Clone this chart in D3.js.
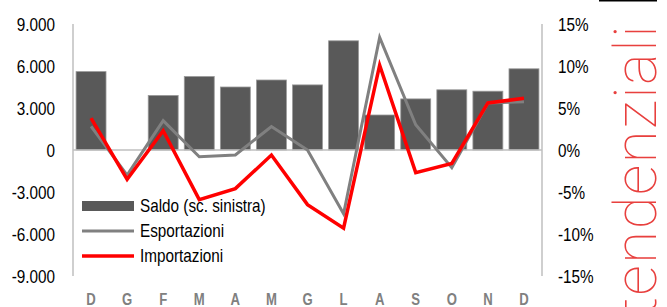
<!DOCTYPE html>
<html>
<head>
<meta charset="utf-8">
<script src="https://cdn.jsdelivr.net/npm/d3@7"></script>
<style>
  body { margin: 0; background: #fff; }
  svg { display: block; font-family: "Liberation Sans", Arial, sans-serif; }
</style>
</head>
<body>
<svg width="667" height="307"></svg>
<script>
// months, Dec of previous year to Dec
var months = ["D", "G", "F", "M", "A", "M", "G", "L", "A", "S", "O", "N", "D"];
var saldo = [5600, 0, 3900, 5250, 4500, 5000, 4650, 7800, 2500, 3650, 4300, 4200, 5800];
var esportazioni = [2.8, -3.0, 3.5, -0.8, -0.6, 2.8, 0.0, -7.6, 13.4, 3.0, -2.1, 5.6, 5.75];
var importazioni = [3.8, -3.5, 2.3, -5.9, -4.6, -0.6, -6.5, -9.3, 10.1, -2.7, -1.6, 5.6, 6.15];
var leftTicks = [-9000, -6000, -3000, 0, 3000, 6000, 9000];
var rightTicks = [-15, -10, -5, 0, 5, 10, 15];
var legendLabels = ["Saldo (sc. sinistra)", "Esportazioni", "Importazioni"];

var it = d3.formatLocale({ decimal: ",", thousands: ".", grouping: [3], currency: ["€", ""], minus: "-" });
var fmt = it.format(",.0f");

var svg = d3.select("svg");
var sx = 0.85; // narrow text look

var mLeft = 73, mRight = 542, mTop = 24, mBottom = 276;

var x = d3.scaleBand().domain(d3.range(months.length)).range([mLeft, mRight]).paddingInner(0.17).paddingOuter(0.085);
var yL = d3.scaleLinear().domain([-9000, 9000]).range([mBottom, mTop]);
var yR = d3.scaleLinear().domain([-15, 15]).range([mBottom, mTop]);

// bars
svg.append("g").selectAll("rect")
    .data(saldo)
    .enter()
    .append("rect")
    .attr("x", function(d, i) { return x(i); })
    .attr("width", x.bandwidth())
    .attr("y", function(d) { return yL(Math.max(0, d)); })
    .attr("height", function(d) { return Math.abs(yL(d) - yL(0)); })
    .attr("fill", "#595959")
    .attr("stroke", "#9a9a9a")
    .attr("stroke-width", 0.8);

// axis lines
svg.append("line").attr("x1", mLeft).attr("x2", mLeft).attr("y1", mTop).attr("y2", mBottom)
    .attr("stroke", "#bfbfbf").attr("stroke-width", 1.5);
svg.append("line").attr("x1", mRight).attr("x2", mRight).attr("y1", mTop).attr("y2", mBottom)
    .attr("stroke", "#bfbfbf").attr("stroke-width", 1.5);
svg.append("line").attr("x1", mLeft).attr("x2", mRight).attr("y1", yL(0)).attr("y2", yL(0))
    .attr("stroke", "#bfbfbf").attr("stroke-width", 1.5);

// lines
var line = function(arr) {
    return d3.line()
        .x(function(d, i) { return x(i) + x.bandwidth() / 2; })
        .y(function(d) { return yR(d); })(arr);
};
svg.append("path").attr("d", line(esportazioni)).attr("fill", "none")
    .attr("stroke", "#808080").attr("stroke-width", 3).attr("stroke-linejoin", "miter");
svg.append("path").attr("d", line(importazioni)).attr("fill", "none")
    .attr("stroke", "#ff0000").attr("stroke-width", 3.5).attr("stroke-linejoin", "miter");

// left axis
var gl = svg.append("g").attr("transform", "translate(" + mLeft + ",0)")
    .call(d3.axisLeft(yL).tickValues(leftTicks).tickFormat(fmt).tickSize(0));
gl.select(".domain").remove();
gl.selectAll("text")
    .attr("x", -18 / sx).attr("dy", "0.35em")
    .attr("transform", "scale(" + sx + ",1)")
    .attr("font-size", 18).attr("font-family", "Liberation Sans, Arial").attr("fill", "#000");

// right axis
var gr = svg.append("g").attr("transform", "translate(" + mRight + ",0)")
    .call(d3.axisRight(yR).tickValues(rightTicks).tickFormat(function(d) { return d + "%"; }).tickSize(0));
gr.select(".domain").remove();
gr.selectAll("text")
    .attr("x", 16 / sx).attr("dy", "0.35em")
    .attr("transform", "scale(" + sx + ",1)")
    .attr("font-size", 18).attr("font-family", "Liberation Sans, Arial").attr("fill", "#000");

// x labels
var gx = svg.append("g").attr("transform", "translate(0," + mBottom + ")")
    .call(d3.axisBottom(x).tickFormat(function(i) { return months[i]; }).tickSize(0));
gx.select(".domain").remove();
gx.selectAll(".tick text")
    .attr("y", 23).attr("dy", "0.35em")
    .attr("transform", "scale(0.82,1)")
    .attr("font-size", 16).attr("font-weight", "bold")
    .attr("font-family", "Liberation Sans, Arial").attr("fill", "#808080");

// legend
var lg = svg.append("g");
var rowY = [206, 231, 256];
lg.append("rect").attr("x", 82).attr("y", rowY[0] - 5).attr("width", 52).attr("height", 10).attr("fill", "#595959");
lg.append("line").attr("x1", 82).attr("x2", 134).attr("y1", rowY[1]).attr("y2", rowY[1])
    .attr("stroke", "#808080").attr("stroke-width", 3);
lg.append("line").attr("x1", 82).attr("x2", 134).attr("y1", rowY[2]).attr("y2", rowY[2])
    .attr("stroke", "#ff0000").attr("stroke-width", 3.5);
lg.selectAll("text.leg")
    .data(legendLabels)
    .enter()
    .append("text")
    .attr("class", "leg")
    .attr("transform", function(d, i) { return "translate(140," + rowY[i] + ") scale(" + sx + ",1)"; })
    .attr("dy", "0.35em")
    .attr("font-size", 18)
    .attr("fill", "#000")
    .text(function(d) { return d; });

// side heading
svg.append("rect").attr("x", 599).attr("y", 0).attr("width", 58).attr("height", 1.5).attr("fill", "#000");
svg.append("text")
    .attr("transform", "translate(656,24) rotate(-90)")
    .attr("text-anchor", "end")
    .attr("font-family", "Roboto, Lato, sans-serif")
    .attr("font-weight", 100)
    .attr("font-size", 60)
    .attr("letter-spacing", 1.5)
    .attr("fill", "#e8403e")
    .text("tendenziali");
</script>
</body>
</html>
